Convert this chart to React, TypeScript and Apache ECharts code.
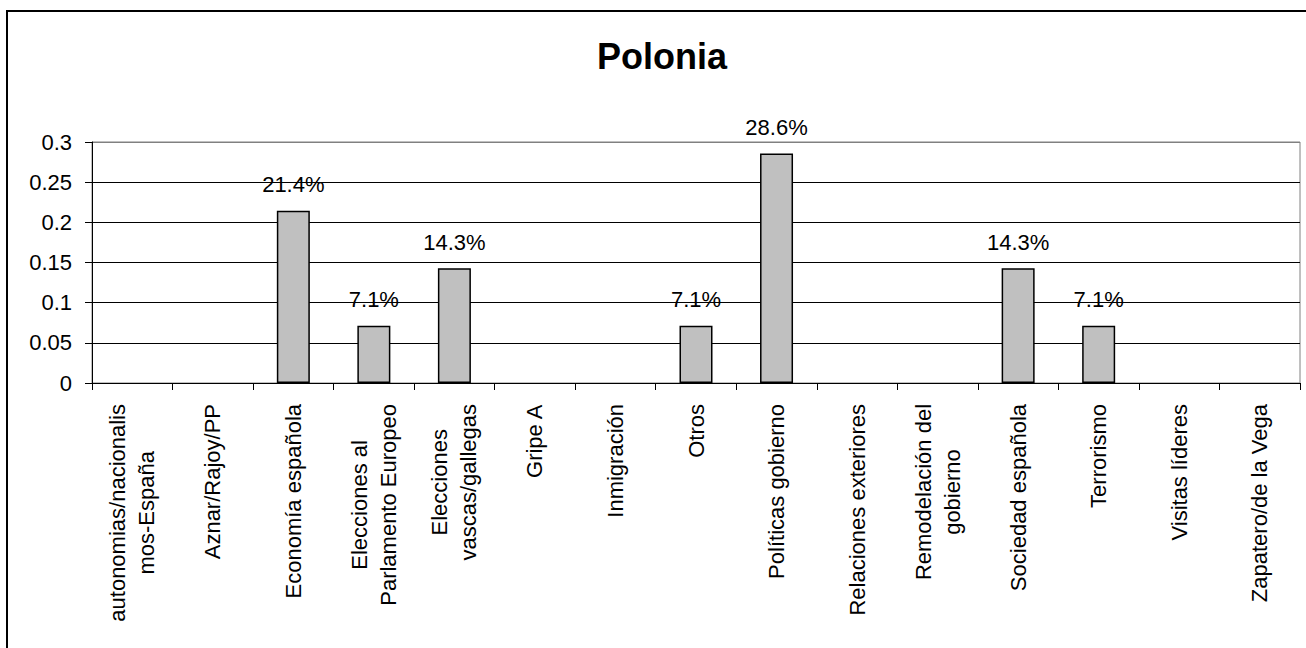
import React, { useEffect, useRef } from "react";
import * as echarts from "echarts";

const titleText = "Polonia";
const categories = [
  "autonomias/nacionalis\nmos-España",
  "Aznar/Rajoy/PP",
  "Economía española",
  "Elecciones al\nParlamento Europeo",
  "Elecciones\nvascas/gallegas",
  "Gripe A",
  "Inmigración",
  "Otros",
  "Políticas gobierno",
  "Relaciones exteriores",
  "Remodelación del\ngobierno",
  "Sociedad española",
  "Terrorismo",
  "Visitas líderes",
  "Zapatero/de la Vega",
];
const shares = [0, 0, 0.2143, 0.0714, 0.1429, 0, 0, 0.0714, 0.2857, 0, 0, 0.1429, 0.0714, 0, 0];
const yTicks = [0, 0.05, 0.1, 0.15, 0.2, 0.25, 0.3];

const FONT = "'Liberation Sans', Arial, Helvetica, sans-serif";

export default function App() {
  const ref = useRef<HTMLDivElement>(null);
  useEffect(() => {
    if (!ref.current) return;
    const chart = echarts.init(ref.current, null, { renderer: "svg" });
    const splitColors = yTicks.map((_, i) => (i === yTicks.length - 1 ? "#808080" : "#000000"));
    chart.setOption({
      animation: false,
      backgroundColor: "#ffffff",
      textStyle: { fontFamily: FONT },
      title: {
        text: titleText,
        left: 662,
        top: 38,
        textAlign: "center",
        padding: 0,
        textStyle: { fontFamily: FONT, fontWeight: "bold", fontSize: 36, color: "#000" },
      },
      graphic: [
        {
          type: "rect",
          shape: { x: 7, y: 11, width: 1320, height: 700 },
          style: { fill: "none", stroke: "#000", lineWidth: 2 },
          silent: true,
        },
      ],
      grid: {
        left: 92,
        top: 142,
        width: 1208,
        height: 241,
        show: true,
        borderColor: "#808080",
        borderWidth: 1,
        backgroundColor: "transparent",
      },
      xAxis: {
        type: "category",
        data: categories,
        boundaryGap: true,
        axisLine: { show: true, lineStyle: { color: "#000", width: 1 } },
        axisTick: { show: true, alignWithLabel: false, length: 7, lineStyle: { color: "#000" } },
        splitLine: { show: false },
        axisLabel: {
          interval: 0,
          rotate: 90,
          margin: 21,
          color: "#000",
          fontFamily: FONT,
          fontSize: 22,
          lineHeight: 29,
          formatter: (v: string) =>
            v
              .split("\n")
              .map((s) => `{c|${s}}`)
              .join("\n"),
          rich: {
            c: { align: "center", fontFamily: FONT, fontSize: 22, lineHeight: 29, color: "#000" },
          },
        },
      },
      yAxis: {
        type: "value",
        min: 0,
        max: 0.3,
        interval: 0.05,
        axisLine: { show: true, lineStyle: { color: "#000", width: 1 } },
        axisTick: { show: true, length: 7, lineStyle: { color: "#000" } },
        axisLabel: {
          margin: 20,
          color: "#000",
          fontFamily: FONT,
          fontSize: 22,
          formatter: (v: number) => String(+v.toFixed(2)),
        },
        splitLine: { show: true, lineStyle: { color: splitColors, width: 1 } },
      },
      series: [
        {
          type: "bar",
          data: shares.map((v) => (v === 0 ? null : v)),
          barWidth: 33,
          itemStyle: { color: "#c0c0c0", borderColor: "#000", borderWidth: 1.5 },
          label: {
            show: true,
            position: "top",
            distance: 15,
            color: "#000",
            fontFamily: FONT,
            fontSize: 22,
            formatter: (p: any) => (p.value ? (p.value * 100).toFixed(1) + "%" : ""),
          },
        },
      ],
    });
    return () => chart.dispose();
  }, []);
  return (
    <div
      ref={ref}
      style={{ position: "absolute", left: 0, top: 0, width: 1306, height: 648 }}
    />
  );
}
